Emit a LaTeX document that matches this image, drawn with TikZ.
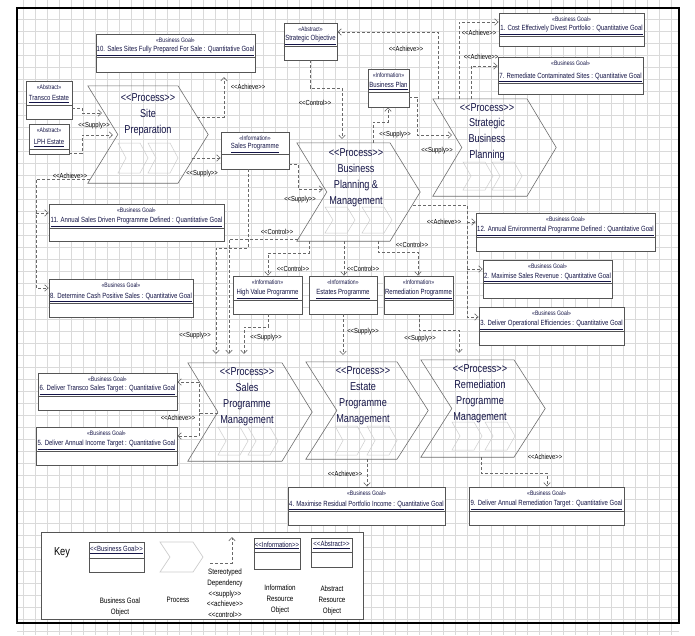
\documentclass[tikz,border=0pt]{standalone}
\usepackage{fontspec}
\newfontfamily\nf[FakeStretch=0.8]{Liberation Sans}
\usetikzlibrary{arrows.meta}
\definecolor{gridc}{RGB}{218,218,218}
\definecolor{boxc}{RGB}{85,85,85}
\definecolor{txtc}{RGB}{20,20,70}
\definecolor{depc}{RGB}{105,105,105}
\definecolor{chevc}{RGB}{110,110,110}
\definecolor{lchev}{RGB}{205,205,205}
\tikzset{
 obj/.style={draw=boxc, line width=0.9pt, fill=white, inner sep=0pt},
 stereo/.style={font=\nf\fontsize{6.4}{7}\selectfont, text=txtc, inner sep=0pt},
 oname/.style={font=\nf\fontsize{7.5}{8}\selectfont, text=txtc, inner sep=0pt},
 divl/.style={draw=boxc, line width=0.9pt},
 proc/.style={inner sep=0pt},
 ptext/.style={font=\nf\fontsize{11.4}{15.8}\selectfont, text=txtc, align=center, inner sep=0pt, anchor=north},
 chev/.style={draw=chevc, line width=0.6pt, line join=miter},
 schev/.style={draw=lchev, line width=0.5pt},
 dep/.style={draw=depc, line width=0.6pt, dash pattern=on 3pt off 2pt, -{Straight Barb[length=3.5pt,width=6.5pt]}},
 dl/.style={font=\nf\fontsize{7.3}{8}\selectfont, inner sep=0pt},
 kl/.style={font=\nf\fontsize{7.8}{10.7}\selectfont, align=center, inner sep=0pt, anchor=north},
}
\newcommand\objbox[8]{%
 \node[obj, minimum width={(#4-#2)*1pt}, minimum height={(#5-#3)*1pt}] (#1) at ({(#2+#4)/2},{(#3+#5)/2}) {};
 \draw[divl] (#1.west |- 0,#6) -- (#1.east |- 0,#6);
 \node[stereo] (#1-s) at ({(#2+#4)/2},{#3+6.5}) {#7};
 \node[oname] (#1-n) at ({(#2+#4)/2},{#6-6}) {\underline{#8}};
}
\newcommand\procc[6]{%
 \node[proc, minimum width={(#4+#6-#2)*1pt}, minimum height={(#5-#3)*1pt}] (#1) at ({(#2+#4+#6)/2},{(#3+#5)/2}) {};
 \draw[chev] (#1.north west) -- (#1.north east -| #4,0) -- (#1.east) -- (#1.south east -| #4,0) -- (#1.south west) -- ([xshift=#6pt]#1.west) -- cycle;
}
\newcommand\schv[3]{%
 \draw[schev] (#1,#2) -- ({#1+22},#2) -- ({#1+30},{(#2+#3)/2}) -- ({#1+22},#3) -- (#1,#3) -- ({#1+8},{(#2+#3)/2}) -- cycle;
}
\begin{document}
\begin{tikzpicture}[x=1pt,y=-1pt]
\useasboundingbox (0,0) rectangle (695,635);
\fill[white] (0,0) rectangle (695,635);
% grid
\foreach \i in {0,...,54} \draw[gridc, line width=0.4pt] ({23.3+12*\i},0) -- ({23.3+12*\i},635);
\foreach \j in {0,...,52} \draw[gridc, line width=0.4pt] (17,{7.3+12*\j}) -- (679,{7.3+12*\j});
\draw[black, line width=1.2pt] (17,8) rectangle (679,623);

% processes
\procc{sp}{88}{86}{178}{183}{30}
\node[ptext] (sp-t) at (148,93.7) {<<Process>>\\Site\\Preparation};
\schv{118}{143}{173}\schv{148}{143}{173}
\procc{bpm}{297}{143}{390}{241}{30}
\node[ptext] (bpm-t) at (356,148.7) {<<Process>>\\Business\\Planning \&\\Management};
\schv{325}{207}{233}\schv{362}{207}{233}
\procc{sbp}{433}{99}{527}{196}{29}
\node[ptext] (sbp-t) at (487,103) {<<Process>>\\Strategic\\Business\\Planning};
\schv{463}{162}{190}\schv{492}{162}{190}
\procc{spm}{188}{363}{282}{461}{30}
\node[ptext] (spm-t) at (247,367.7) {<<Process>>\\Sales\\Programme\\Management};
\schv{218}{427}{455}\schv{248}{427}{455}
\procc{epm}{306}{362}{397}{459}{31}
\node[ptext] (epm-t) at (363,366.7) {<<Process>>\\Estate\\Programme\\Management};
\schv{335}{426}{455}\schv{367}{426}{455}
\procc{rpm}{421}{360}{514}{457}{31}
\node[ptext] (rpm-t) at (480,364.7) {<<Process>>\\Remediation\\Programme\\Management};
\schv{452}{422}{450}\schv{485}{422}{450}

% objects
\objbox{g10}{96}{34}{255}{72}{57}{«Business Goal»}{10. Sales Sites Fully Prepared For Sale : Quantitative Goal}
\objbox{tr}{26}{81}{72}{119}{105}{«Abstract»}{Transco Estate}
\objbox{lph}{29}{124}{69}{154}{149}{«Abstract»}{LPH Estate}
\objbox{so}{284}{23}{337}{60}{46}{«Abstract»}{Strategic Objective}
\objbox{bp}{368}{69}{409}{107}{92}{«Information»}{Business Plan}
\objbox{g1}{499}{13}{644}{46}{36}{«Business Goal»}{1. Cost Effectively Divest Portfolio : Quantitative Goal}
\objbox{g7}{498}{57}{643}{94}{83}{«Business Goal»}{7. Remediate Contaminated Sites : Quantitative Goal}
\objbox{spg}{221}{132}{289}{169}{154}{«Information»}{Sales Programme}
\objbox{g11}{49}{204}{224}{241}{228}{«Business Goal»}{11. Annual Sales Driven Programme Defined : Quantitative Goal}
\objbox{g8}{49}{279}{193}{317}{303}{«Business Goal»}{8. Determine Cash Positive Sales : Quantitative Goal}
\objbox{hvp}{233}{276}{302}{314}{300}{«Information»}{High Value Programme}
\objbox{ep}{309}{276}{377}{314}{300}{«Information»}{Estates Programme}
\objbox{rp}{384}{276}{453}{314}{300}{«Information»}{Remediation Programme}
\objbox{g12}{476}{213}{655}{251}{237}{«Business Goal»}{12. Annual Environmental Programme Defined : Quantitative Goal}
\objbox{g2}{483}{260}{612}{298}{283}{«Business Goal»}{2. Maximise Sales Revenue : Quantitative Goal}
\objbox{g3}{479}{307}{624}{345}{331}{«Business Goal»}{3. Deliver Operational Efficiencies : Quantitative Goal}
\objbox{g6}{38}{373}{177}{410}{396}{«Business Goal»}{6. Deliver Transco Sales Target : Quantitative Goal}
\objbox{g5}{36}{427}{177}{465}{451}{«Business Goal»}{5. Deliver Annual Income Target : Quantitative Goal}
\objbox{g4}{288}{487}{445}{525}{511}{«Business Goal»}{4. Maximise Residual Portfolio Income : Quantitative Goal}
\objbox{g9}{469}{487}{624}{525}{511}{«Business Goal»}{9. Deliver Annual Remediation Target : Quantitative Goal}

% dependencies
\draw[dep] (tr.east |- 0,108) -- (82,108) -- (82,113) -- (102,113);
\draw[dep] (lph.east |- 0,153) -- (82,153) -- (82,135) -- (113,135);
\draw[dep] (197,117) -| (224,77);
\draw[dep] (192,158) -- (spg.west |- 0,158);
\draw[dep] (90,179) -- (36,179) -- (36,288) -- (g8.west |- 0,288);
\draw[dep] (36,213) -- (g11.west |- 0,213);
\draw[dep] (so.south -| 310,0) |- (342,88) -- (342,139);
\draw[dep] (sbp.north -| 438,0) |- (so.east |- 0,32);
\draw[dep] (bpm.north -| 373,0) -- (373,122) -| (bp.south -| 388,0);
\draw[dep] (bp.east |- 0,97) -| (417,135) -- (452,135);
\draw[dep] (sbp.north -| 459,0) |- (g1.west |- 0,22);
\draw[dep] (sbp.north -| 471,0) |- (g7.west |- 0,66);
\draw[dep] (413,205) -- (467,205) |- (g3.west |- 0,317);
\draw[dep] (467,222) -- (g12.west |- 0,222);
\draw[dep] (467,269) -- (g2.west |- 0,269);
\draw[dep] (bpm.south -| 378,0) |- (418,252) -- (rp.north -| 418,0);
\draw[dep] (bpm.south -| 344,0) -- (ep.north -| 344,0);
\draw[dep] (bpm.south -| 309,0) |- (268,253) -- (hvp.north -| 268,0);
\draw[dep] (spg.east |- 0,164) -| (298,189) -- (323,189);
\draw[dep] (298,239) -| (229,354);
\draw[dep] (spg.south -| 248,0) |- (216,248) -- (216,354);
\draw[dep] (ep.south -| 343,0) -- (343,355);
\draw[dep] (rp.south -| 419,0) |- (459,330) -- (459,353);
\draw[dep] (hvp.south -| 268,0) |- (244,327) -- (244,354);
\draw[dep] (218,413) -- (199,413) |- (g6.east |- 0,382);
\draw[dep] (199,413) |- (g5.east |- 0,436);
\draw[dep] (epm.south -| 367,0) -- (g4.north -| 367,0);
\draw[dep] (rpm.south -| 481,0) |- (547,473) -- (g9.north -| 547,0);

% dependency labels
\node[dl] (l1) at (94,126) {<<Supply>>};
\node[dl] (l2) at (248,87) {<<Achieve>>};
\node[dl] (l3) at (202,174) {<<Supply>>};
\node[dl] (l4) at (70,176) {<<Achieve>>};
\node[dl] (l5) at (315,103) {<<Control>>};
\node[dl] (l6) at (406,49) {<<Achieve>>};
\node[dl] (l7) at (395,135) {<<Supply>>};
\node[dl] (l8) at (437,151) {<<Supply>>};
\node[dl] (l9) at (479,33) {<<Achieve>>};
\node[dl] (l10) at (481,57) {<<Achieve>>};
\node[dl] (l11) at (444,222) {<<Achieve>>};
\node[dl] (l12) at (412,245) {<<Control>>};
\node[dl] (l13) at (363,269) {<<Control>>};
\node[dl] (l14) at (293,269) {<<Control>>};
\node[dl] (l15) at (300,200) {<<Supply>>};
\node[dl] (l16) at (277,232) {<<Control>>};
\node[dl] (l17) at (195,336) {<<Supply>>};
\node[dl] (l18) at (363,332) {<<Supply>>};
\node[dl] (l19) at (420,339) {<<Supply>>};
\node[dl] (l20) at (266,338) {<<Supply>>};
\node[dl] (l21) at (178,418) {<<Achieve>>};
\node[dl] (l22) at (345,474) {<<Achieve>>};
\node[dl] (l23) at (545,457) {<<Achieve>>};

% key
\node[obj, minimum width=322pt, minimum height=87pt] (key) at (202,575.5) {};
\node[font=\nf\fontsize{11.6}{12}\selectfont, inner sep=0pt] (key-t) at (62,553) {Key};
\node[obj, minimum width=55pt, minimum height=30pt] (kg) at (116.5,557) {};
\draw[divl] (kg.west |- 0,558) -- (kg.east |- 0,558);
\node[oname] (kg-n) at (116.5,550) {\underline{<<Business Goal>>}};
\draw[schev, line width=0.7pt] (160,542) -- (193,542) -- (203,557) -- (193,572) -- (160,572) -- (170,557) -- cycle;
\coordinate (kd) at (210,563);
\draw[dep] (kd) -| (232,537);
\node[obj, minimum width=46pt, minimum height=31pt] (ki) at (277,553.5) {};
\draw[divl] (ki.west |- 0,552) -- (ki.east |- 0,552);
\node[oname] (ki-n) at (277,545.5) {\underline{<<Information>>}};
\node[obj, minimum width=41pt, minimum height=29pt] (ka) at (331.5,552.5) {};
\draw[divl] (ka.west |- 0,552) -- (ka.east |- 0,552);
\node[oname] (ka-n) at (331.5,545) {\underline{<<Abstract>>}};
\node[kl] (k1) at (120,598) {Business Goal\\Object};
\node[kl] (k2) at (178,597) {Process};
\node[kl] (k3) at (225,569) {Stereotyped\\Dependency\\<<supply>>\\<<achieve>>\\<<control>>};
\node[kl] (k4) at (280,585) {Information\\Resource\\Object};
\node[kl] (k5) at (332,586) {Abstract\\Resource\\Object};
\end{tikzpicture}
\end{document}
